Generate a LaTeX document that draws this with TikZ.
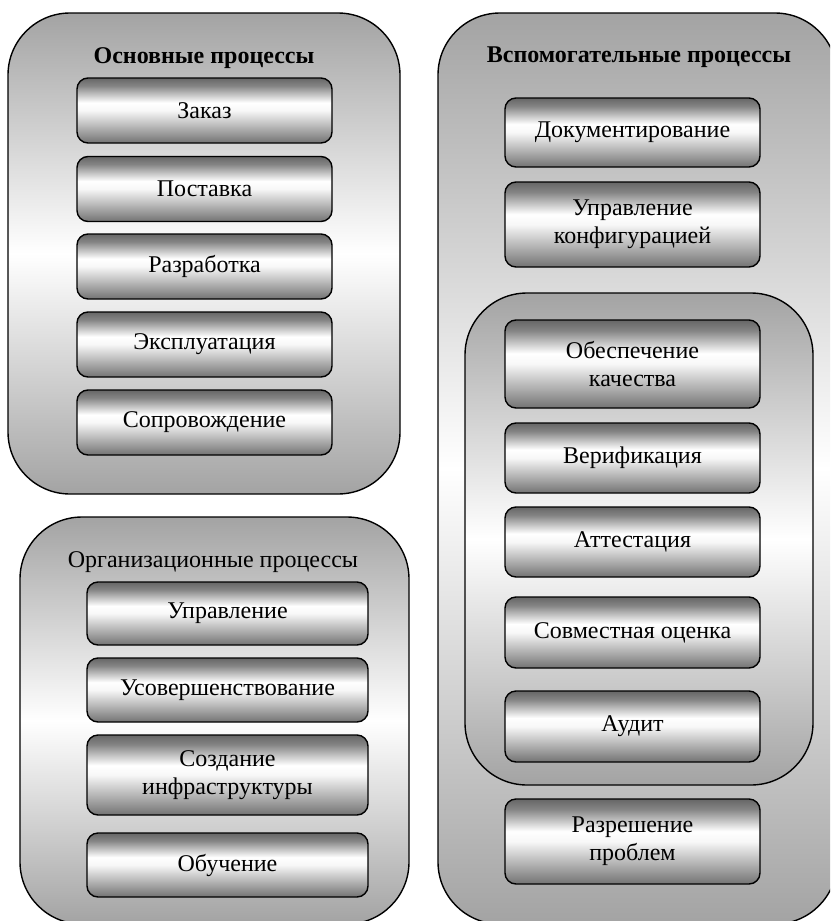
\documentclass[tikz,border=0pt]{standalone}
\usepackage{fontspec}
\setmainfont{Liberation Serif}
% visible range of a path shading is 25bp (bottom) .. 75bp (top)
\pgfdeclareverticalshading{boxshade}{100bp}{rgb(0bp)=(0.45,0.45,0.45); rgb(25bp)=(0.45,0.45,0.45); rgb(35bp)=(0.66,0.66,0.66); rgb(50bp)=(0.97,0.97,0.97); rgb(56bp)=(1,1,1); rgb(69bp)=(0.52,0.52,0.52); rgb(75bp)=(0.40,0.40,0.40); rgb(100bp)=(0.40,0.40,0.40)}
\pgfdeclareverticalshading{groupshade}{100bp}{rgb(0bp)=(0.64,0.64,0.64); rgb(25bp)=(0.64,0.64,0.64); rgb(50bp)=(1,1,1); rgb(75bp)=(0.64,0.64,0.64); rgb(100bp)=(0.64,0.64,0.64)}
\tikzset{
  group/.style={draw=black, line width=1.4pt, rounded corners=62pt, shading=groupshade, inner sep=0pt},
  proc/.style={draw=black, line width=1.4pt, rounded corners=11pt, shading=boxshade, inner sep=0pt, align=center, font=\fontsize{24}{28}\selectfont},
  title/.style={inner sep=0pt, font=\fontsize{24}{28}\selectfont}
}
\begin{document}
\begin{tikzpicture}[x=1pt, y=-1pt]
\useasboundingbox (0,0) rectangle (830,921);
\clip (0,0) rectangle (830,921);
% containers
\node[group, minimum width=392pt, minimum height=481pt] (g1) at (204,253.5) {};
\node[group, minimum width=389pt, minimum height=407pt] (g2) at (214.5,720.5) {};
\node[group, minimum width=399pt, minimum height=911pt] (g3) at (637.5,468.5) {};
\node[group, minimum width=348pt, minimum height=492pt] (g4) at (639,539) {};
% titles
\node[title, font=\fontsize{24}{28}\selectfont\bfseries] (t1) at (204,58) {Основные процессы};
\node[title] (t2) at (213,562) {Организационные процессы};
\node[title, font=\fontsize{24}{28}\selectfont\bfseries] (t3) at (639,57) {Вспомогательные процессы};
% main
\node[proc, minimum width=255pt, minimum height=65pt] (a1) at (204.5,110.5) {Заказ};
\node[proc, minimum width=255pt, minimum height=65pt] (a2) at (204.5,189) {Поставка};
\node[proc, minimum width=255pt, minimum height=65pt] (a3) at (204.5,266.5) {Разработка};
\node[proc, minimum width=255pt, minimum height=65pt] (a4) at (204.5,344.5) {Эксплуатация};
\node[proc, minimum width=255pt, minimum height=65pt] (a5) at (204.5,422.5) {Сопровождение};
% organisational
\node[proc, minimum width=281pt, minimum height=63pt] (b1) at (227.5,613.5) {Управление};
\node[proc, minimum width=281pt, minimum height=64pt] (b2) at (227.5,690) {Усовершенствование};
\node[proc, minimum width=281pt, minimum height=80pt] (b3) at (227.5,775) {Создание\\инфраструктуры};
\node[proc, minimum width=281pt, minimum height=64pt] (b4) at (227.5,865) {Обучение};
% supporting
\node[proc, minimum width=255pt, minimum height=69pt] (c1) at (632.5,132.5) {Документирование};
\node[proc, minimum width=255pt, minimum height=85pt] (c2) at (632.5,224.5) {Управление\\конфигурацией};
\node[proc, minimum width=255pt, minimum height=88pt] (c3) at (632.5,364) {Обеспечение\\качества};
\node[proc, minimum width=255pt, minimum height=70pt] (c4) at (632.5,458) {Верификация};
\node[proc, minimum width=255pt, minimum height=70pt] (c5) at (632.5,542) {Аттестация};
\node[proc, minimum width=255pt, minimum height=71pt] (c6) at (632.5,632.5) {Совместная оценка};
\node[proc, minimum width=255pt, minimum height=71pt] (c7) at (632.5,726.5) {Аудит};
\node[proc, minimum width=255pt, minimum height=85pt] (c8) at (632.5,841.5) {Разрешение\\проблем};
\end{tikzpicture}
\end{document}
